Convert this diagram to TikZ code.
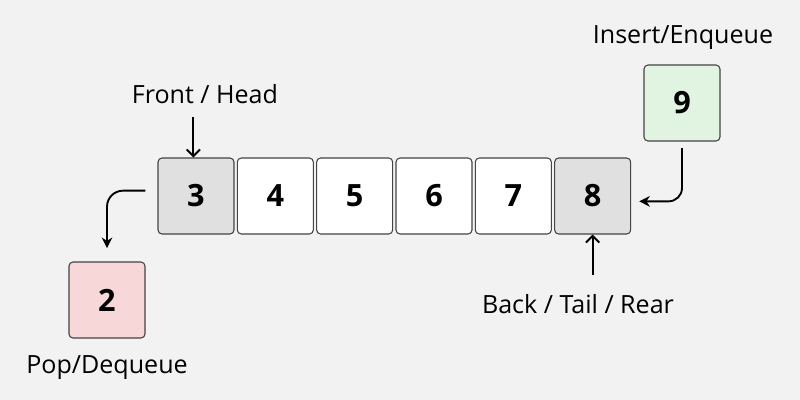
\documentclass[tikz,border=0pt]{standalone}
\usepackage{fontspec}
\setmainfont{Open Sans}
\usetikzlibrary{positioning, arrows.meta}
\definecolor{bgcol}{HTML}{F2F2F2}
\definecolor{headcol}{HTML}{E0E0E0}
\definecolor{incol}{HTML}{E1F4E2}
\definecolor{outcol}{HTML}{F8D7D9}
\definecolor{edgecol}{HTML}{444444}
\tikzstyle{cell} = [rectangle, rounded corners=3pt, minimum width=57pt, minimum height=57pt, draw=edgecol, fill=white, line width=0.8pt, font=\fontsize{23}{23}\selectfont\bfseries]
\tikzstyle{tag} = [font=\fontsize{18.8}{18.8}\selectfont, inner sep=0pt, anchor=base]
\tikzstyle{arrow} = [line width=1.4pt, draw=black, -{Stealth[length=8pt, width=8pt]}]
\tikzstyle{pointer} = [line width=1.4pt, draw=black, -{Straight Barb[length=5pt, width=10pt]}]

\begin{document}
\begin{tikzpicture}[x=0.75pt, y=-0.75pt, node distance=59.5pt]
\fill [bgcol] (0,0) rectangle (800,400);
\node (c3) [cell, fill=headcol] at (196,196) {3};
\node (c4) [cell, right of=c3] {4};
\node (c5) [cell, right of=c4] {5};
\node (c6) [cell, right of=c5] {6};
\node (c7) [cell, right of=c6] {7};
\node (c8) [cell, fill=headcol, right of=c7] {8};
\node (c9) [cell, fill=incol] at (682,103) {9};
\node (c2) [cell, fill=outcol] at (107,300) {2};
\node (front) [tag] at (205,103) {Front / Head};
\node (back) [tag] at (578,313) {Back / Tail / Rear};
\node (enq) [tag] at (683,43) {Insert/Enqueue};
\node (deq) [tag] at (107,373) {Pop/Dequeue};
\draw [pointer] ([xshift=-2pt, yshift=-10.5pt]c3.north |- front.base) -- ([xshift=-2pt]c3.north);
\draw [pointer] ([yshift=28.5pt]c8.south |- back.base) -- (c8.south);
\draw [arrow, rounded corners=10pt] ([yshift=-5pt]c9.south) |- ([xshift=6pt, yshift=-4pt]c8.east);
\draw [arrow, rounded corners=12pt] ([xshift=-9pt, yshift=4pt]c3.west) -| ([yshift=10pt]c2.north);
\end{tikzpicture}
\end{document}
